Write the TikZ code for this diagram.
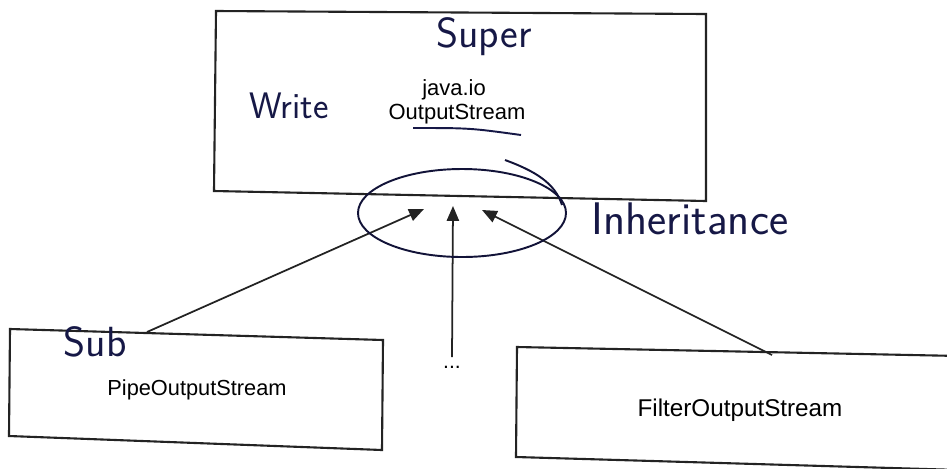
\documentclass[tikz,border=0pt]{standalone}
\usepackage{fontspec}
\setmainfont{Liberation Sans}
\usetikzlibrary{arrows.meta}
\definecolor{ink}{RGB}{22,24,70}
\definecolor{pencil}{RGB}{35,35,35}
\newcommand{\handfont}[1]{\sffamily\addfontfeature{LetterSpace=#1}}
\tikzset{
  boxline/.style={draw=pencil, line width=1.2pt, line join=miter},
  txt/.style={inner sep=0pt, text=black},
  hand/.style={inner sep=0pt, text=ink},
  inherit/.style={draw=pencil, line width=1pt,
    -{Triangle[length=8.5pt,width=7pt]}},
  ringline/.style={draw=ink!80!black, line width=1.1pt},
}
\begin{document}
\begin{tikzpicture}[x=0.02cm,y=-0.02cm]
\useasboundingbox (0,0) rectangle (947,468);
\clip (0,0) rectangle (947,468);

% super class box
\coordinate (s1) at (216,11);
\coordinate (s2) at (706,14);
\coordinate (s3) at (706,201);
\coordinate (s4) at (214,191);
\draw[boxline] (s1) -- (s2) -- (s3) -- (s4) -- cycle;
\node[txt, font=\fontsize{12.5}{14}\selectfont] (pkg) at (454,90) {java.io};
\node[txt, font=\fontsize{12.5}{14}\selectfont] (outs) at (457,114) {OutputStream};
\coordinate (ul1) at (413,128);
\coordinate (ul2) at (521,135);
\draw[ink, line width=1.1pt] (ul1) .. controls (470,128) .. (ul2);
\node[hand, font=\fontsize{24}{26}\handfont{6}] (super) at (484,37) {Super};
\node[hand, font=\fontsize{21}{23}\handfont{6}] (write) at (289,106) {Write};

% sub class boxes
\coordinate (p1) at (10,329);
\coordinate (p2) at (383,340);
\coordinate (p3) at (382,450);
\coordinate (p4) at (9,436);
\draw[boxline] (p1) -- (p2) -- (p3) -- (p4) -- cycle;
\node[txt, font=\fontsize{12.4}{14}\selectfont] (pipe) at (197,390) {PipeOutputStream};
\node[hand, font=\fontsize{24}{26}\handfont{6}] (sub) at (95,342) {Sub};

\coordinate (f1) at (517,347);
\coordinate (f2) at (960,356);
\coordinate (f3) at (960,470);
\coordinate (f4) at (516,457);
\draw[boxline] (f2) -- (f1) -- (f4) -- (f3);
\node[txt, font=\fontsize{13.8}{15}\selectfont] (filter) at (740,410) {FilterOutputStream};

\node[txt, font=\fontsize{12}{14}\selectfont] (more) at (452,367) {...};

% inheritance arrows
\coordinate (pipetop) at (147,332);
\coordinate (moretop) at (452,357);
\coordinate (filtertop) at (772,355);
\coordinate (tipl) at (424,209);
\coordinate (tipm) at (453,206);
\coordinate (tipr) at (482,210);
\draw[inherit] (pipetop) -- (tipl);
\draw[inherit] (moretop) -- (tipm);
\draw[inherit] (filtertop) -- (tipr);

% ring around the arrow heads
\coordinate (ring) at (462,213);
\draw[ringline] (ring) ellipse [x radius=104, y radius=44];
\coordinate (hook1) at (505,160);
\coordinate (hook2) at (562,205);
\draw[ringline] (hook1) .. controls (535,171) and (555,183) .. (hook2);
\node[hand, font=\fontsize{26}{28}\handfont{8}] (inh) at (690,219) {Inheritance};
\end{tikzpicture}
\end{document}
